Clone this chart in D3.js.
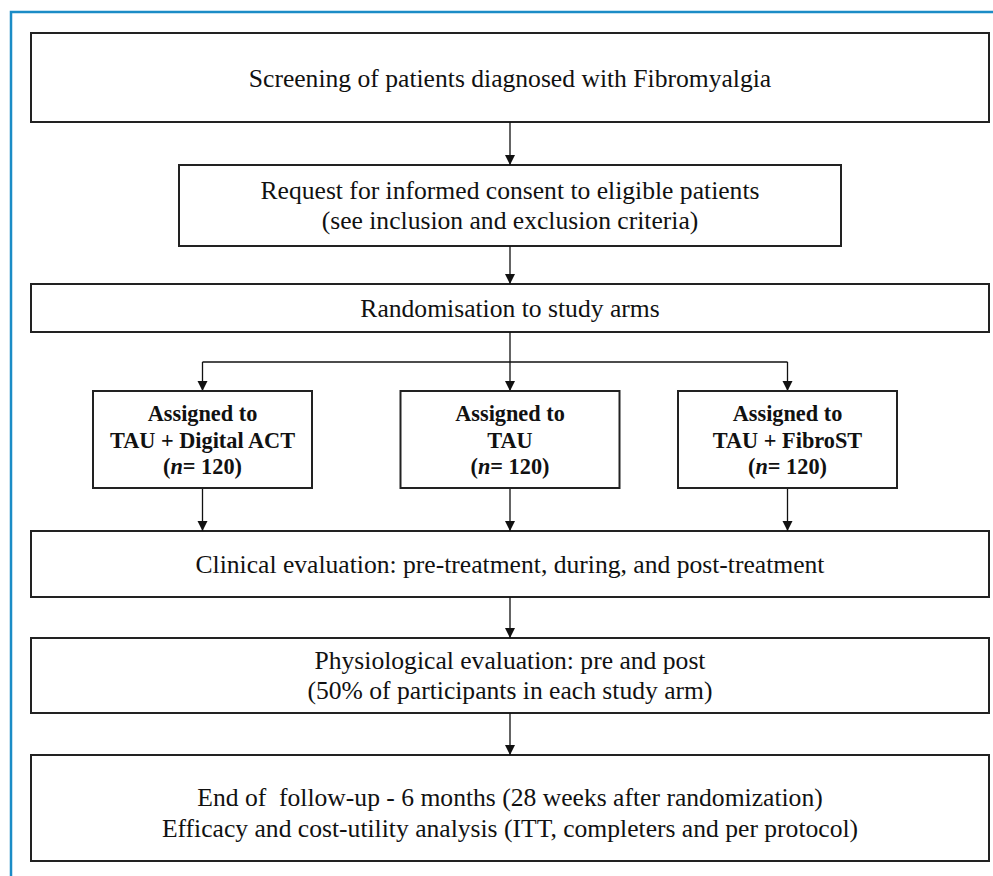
<!DOCTYPE html>
<html>
<head>
<meta charset="utf-8">
<script src="https://cdn.jsdelivr.net/npm/d3@7"></script>
<style>
  body { margin: 0; background: #fff; }
  svg { display: block; }
</style>
</head>
<body>
<div id="chart"></div>
<script>
// passos del diagrama (text de cada caixa)
let passos = [
  ['Screening of patients diagnosed with Fibromyalgia'],
  ['Request for informed consent to eligible patients', '(see inclusion and exclusion criteria)'],
  ['Randomisation to study arms'],
  ['Clinical evaluation: pre-treatment, during, and post-treatment'],
  ['Physiological evaluation: pre and post', '(50% of participants in each study arm)'],
  ['End of  follow-up - 6 months (28 weeks after randomization)', 'Efficacy and cost-utility analysis (ITT, completers and per protocol)']
]
let braços = ['TAU + Digital ACT', 'TAU', 'TAU + FibroST']
let mostra = [120, 120, 120]

// geometria de les caixes (x0, x1, y0, y1, interlineat, desplaçament)
let caixes = [
  { x0: 31, x1: 989, y0: 33, y1: 122, gap: 30, dy: 9 },
  { x0: 179, x1: 841, y0: 165, y1: 246, gap: 30, dy: 8.5 },
  { x0: 31, x1: 989, y0: 284, y1: 332, gap: 30, dy: 9 },
  { x0: 31, x1: 989, y0: 531, y1: 597, gap: 30, dy: 9 },
  { x0: 31, x1: 989, y0: 638, y1: 713, gap: 30, dy: 8.5 },
  { x0: 31, x1: 989, y0: 755, y1: 861, gap: 31, dy: 13 }
]
let ampleBraç = 219
let braçY0 = 391
let braçY1 = 488
let branca = 362
let centre = 510

let xBraç = d3.scaleOrdinal().domain(braços).range([202.5, 510, 787.5])

let svg = d3.select('#chart')
  .append('svg')
  .attr('width', 993)
  .attr('height', 876)

svg.append('defs').append('marker')
  .attr('id', 'fletxa')
  .attr('viewBox', '0 0 10 10')
  .attr('refX', 10).attr('refY', 5)
  .attr('markerWidth', 10).attr('markerHeight', 11)
  .attr('markerUnits', 'userSpaceOnUse')
  .attr('orient', 'auto')
  .append('path')
  .attr('d', 'M0,0 L10,5 L0,10 Z')
  .attr('fill', '#111')

// marc blau (només dalt i esquerra)
svg.append('path')
  .attr('d', 'M11,876 L11,12 L993,12')
  .attr('fill', 'none')
  .attr('stroke', '#1b8cc6')
  .attr('stroke-width', 2.5)

let traç = '#222'
let font = '"Liberation Serif", "Times New Roman", serif'

function fletxa(x, y0, y1) {
  svg.append('line')
    .attr('x1', x).attr('x2', x)
    .attr('y1', y0).attr('y2', y1)
    .attr('stroke', '#111')
    .attr('stroke-width', 1.3)
    .attr('marker-end', 'url(#fletxa)')
}

// caixes principals
passos.forEach((linies, i) => {
  let c = caixes[i]
  svg.append('rect')
    .attr('x', c.x0).attr('y', c.y0)
    .attr('width', c.x1 - c.x0).attr('height', c.y1 - c.y0)
    .attr('fill', '#fff')
    .attr('stroke', traç)
    .attr('stroke-width', 2)
  let mig = (c.y0 + c.y1) / 2
  let primer = mig + c.dy - (linies.length - 1) * c.gap / 2
  svg.append('g').selectAll('text')
    .data(linies)
    .enter()
    .append('text')
    .attr('x', (c.x0 + c.x1) / 2)
    .attr('y', (d, j) => primer + j * c.gap)
    .attr('text-anchor', 'middle')
    .attr('font-family', font)
    .attr('font-size', 25.6)
    .attr('fill', '#111')
    .style('white-space', 'pre')
    .text(d => d)
})

// fletxes entre caixes
fletxa(centre, caixes[0].y1, caixes[1].y0)
fletxa(centre, caixes[1].y1, caixes[2].y0)
fletxa(centre, caixes[4].y1, caixes[5].y0)
fletxa(centre, caixes[3].y1, caixes[4].y0)

// branca cap als tres braços
svg.append('line')
  .attr('x1', centre).attr('x2', centre)
  .attr('y1', caixes[2].y1).attr('y2', branca)
  .attr('stroke', '#111').attr('stroke-width', 1.3)
svg.append('line')
  .attr('x1', xBraç(braços[0])).attr('x2', xBraç(braços[2]))
  .attr('y1', branca).attr('y2', branca)
  .attr('stroke', '#111').attr('stroke-width', 1.3)

braços.forEach((b, i) => {
  let x = xBraç(b)
  fletxa(x, branca, braçY0)
  fletxa(x, braçY1, caixes[3].y0)
  svg.append('rect')
    .attr('x', x - ampleBraç / 2).attr('y', braçY0)
    .attr('width', ampleBraç).attr('height', braçY1 - braçY0)
    .attr('fill', '#fff')
    .attr('stroke', traç)
    .attr('stroke-width', 2)
  let g = svg.append('g')
    .attr('font-family', font)
    .attr('font-size', 22.3)
    .attr('font-weight', 'bold')
    .attr('text-anchor', 'middle')
    .attr('fill', '#111')
  g.append('text').attr('x', x).attr('y', 421).text('Assigned to')
  g.append('text').attr('x', x).attr('y', 447.5).text(b)
  let t = g.append('text').attr('x', x).attr('y', 474)
  t.append('tspan').text('(')
  t.append('tspan').attr('font-style', 'italic').text('n')
  t.append('tspan').text('= ' + mostra[i] + ')')
})
</script>
</body>
</html>
